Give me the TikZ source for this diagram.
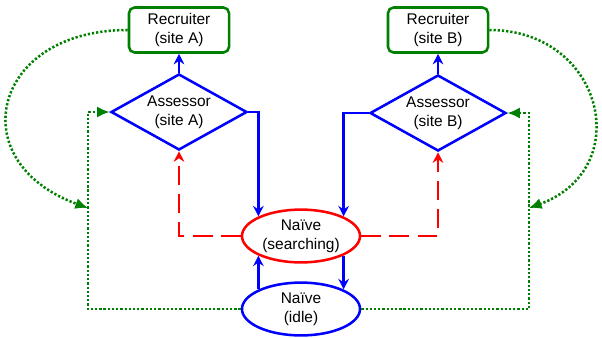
\documentclass[tikz,border=0pt]{standalone}
\usepackage{fontspec}
\setmainfont{Liberation Sans}
\usetikzlibrary{shapes.geometric,arrows.meta}

\begin{document}
\begin{tikzpicture}[x=0.025cm,y=0.025cm,line width=1.8pt,
  font=\fontsize{11}{13.5}\selectfont,
  recbox/.style={draw=green!50!black,rounded corners=4pt,align=center,
    minimum width=2.5cm,minimum height=1.125cm,inner sep=0pt},
  assess/.style={draw=blue,diamond,aspect=1.79,align=center,
    minimum width=3.4cm,minimum height=1.9cm,inner sep=0pt},
  naive/.style={ellipse,align=center,minimum width=2.95cm,
    minimum height=1.32cm,inner sep=0pt},
  bluearr/.style={draw=blue,-{Stealth[length=7.5pt,width=7.5pt,inset=2.5pt]}},
  redarr/.style={draw=red,dash pattern=on 14pt off 6pt,
    -{Stealth[length=7.5pt,width=7.5pt,inset=2.5pt]}},
  greenarr/.style={draw=green!50!black,dash pattern=on 1.6pt off 1.4pt,
    -{Latex[length=9pt,width=8pt]}}]
\useasboundingbox (0,0) rectangle (602,-337);

% ---- nodes
\node[recbox] (recA) at (179,-30) {Recruiter\\(site A)};
\node[recbox] (recB) at (438,-30) {Recruiter\\(site B)};
\node[assess] (asrA) at (179,-112) {Assessor\\(site A)};
\node[assess] (asrB) at (438,-113) {Assessor\\(site B)};
\node[naive,draw=red]  (naiveS) at (301,-236) {Na\"ive\\(searching)};
\node[naive,draw=blue] (naiveI) at (301,-309) {Na\"ive\\(idle)};

% ---- corner points of the outer loops
\coordinate (cornerA) at (88,-112);
\coordinate (hitA)    at (88,-208);
\coordinate (cornerB) at (529,-113);
\coordinate (hitB)    at (529,-208);

% ---- blue arrows
\draw[bluearr] (asrA.north) -- (recA.south);
\draw[bluearr] (asrB.north) -- (recB.south);
\draw[bluearr] (asrA.east) -| (naiveS.north west);
\draw[bluearr] (asrB.west) -| (naiveS.north east);
\draw[bluearr] (naiveI.north west) -- (naiveS.south west);
\draw[bluearr] (naiveS.south east) -- (naiveI.north east);

% ---- red dashed arrows
\draw[redarr] (naiveS.west) -| (asrA.south);
\draw[redarr] (naiveS.east) -| (asrB.south);

% ---- green dotted loops
\draw[greenarr] (naiveI.west) -| (cornerA) -- (asrA.west);
\draw[greenarr] (naiveI.east) -| (cornerB) -- (asrB.east);
\draw[greenarr] (recA.west) to[out=180,in=160,looseness=1.9] (hitA);
\draw[greenarr] (recB.east) to[out=0,in=20,looseness=1.6] (hitB);
\end{tikzpicture}
\end{document}
